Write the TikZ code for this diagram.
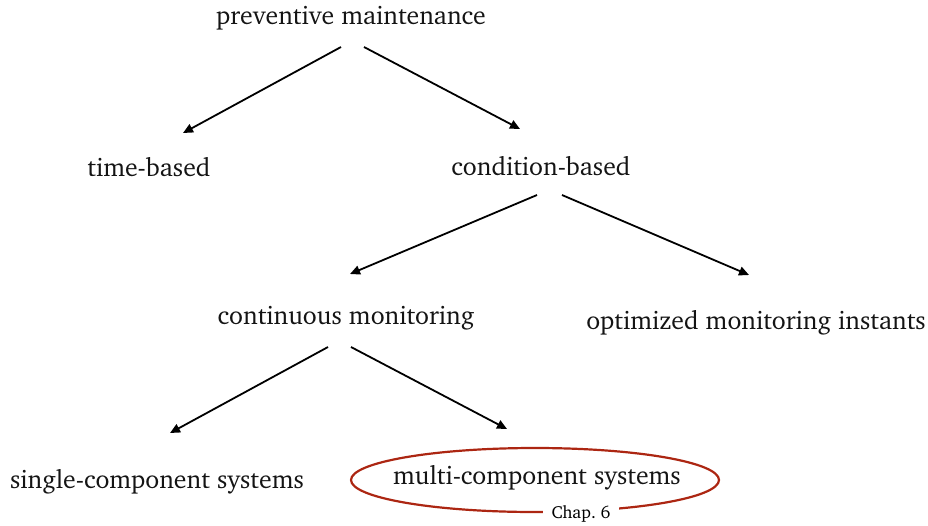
\documentclass[tikz,border=0pt]{standalone}
\usepackage[T1]{fontenc}
\usepackage{charter}
\usetikzlibrary{arrows.meta,calc,shapes.geometric}
\definecolor{ringred}{RGB}{172,38,18}
\tikzset{
  lbl/.style={inner sep=0pt, font=\fontsize{25.8}{30}\selectfont, text=black!92},
  conn/.style={line width=1.8pt, -{Triangle[length=10pt,width=9pt]}},
  chap/.style={inner xsep=9pt, inner ysep=3pt, fill=white, font=\fontsize{17.5}{20}\selectfont}
}
\begin{document}
\begin{tikzpicture}[x=1pt,y=-1pt]
\useasboundingbox (0,0) rectangle (928,525);
\node[lbl] (pm) at (351,18) {preventive maintenance};
\node[lbl] (tb) at (149,167) {time-based};
\node[lbl] (cb) at (541,166) {condition-based};
\node[lbl] (cm) at (346,318) {continuous monitoring};
\node[lbl] (om) at (756,323) {optimized monitoring instants};
\node[lbl] (sc) at (157,482) {single-component systems};
\node[lbl] (mc) at (537,478) {multi-component systems};
\node[draw=ringred, line width=2.2pt, ellipse, minimum width=368pt, minimum height=64pt] (ring) at (535,480) {};
\node[chap] (ch) at (581,514) {Chap.~6};
\draw[conn] ($(pm)+(-10,29)$) -- ($(tb)+(34,-34)$);
\draw[conn] ($(pm)+(13,29)$) -- ($(cb)+(-21,-37)$);
\draw[conn] ($(cb)+(-4,29)$) -- ($(cm)+(4,-44)$);
\draw[conn] ($(cb)+(21,29)$) -- ($(om)+(-7,-48)$);
\draw[conn] ($(cm)+(-18,29)$) -- ($(sc)+(13,-49)$);
\draw[conn] ($(cm)+(5,29)$) -- ($(mc)+(-30,-49)$);
\end{tikzpicture}
\end{document}
